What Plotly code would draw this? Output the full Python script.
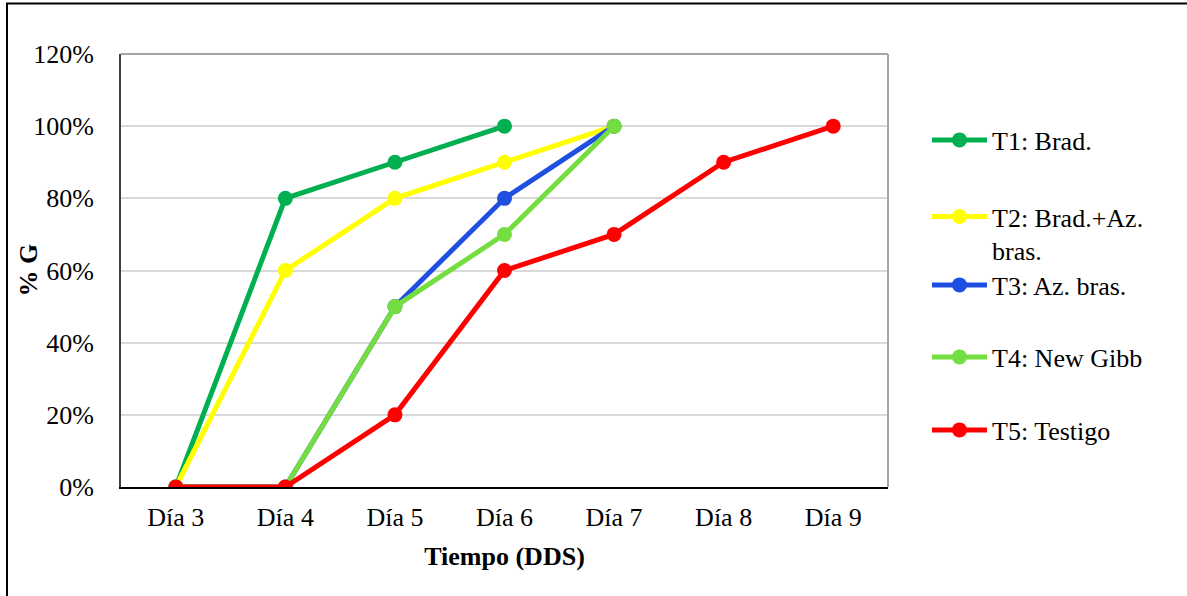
import plotly.graph_objects as go

# Germination curves (% G) per treatment over days after sowing
dias = ["Día 3", "Día 4", "Día 5", "Día 6", "Día 7", "Día 8", "Día 9"]

t1_brad = [0.0, 0.8, 0.9, 1.0, None, None, None]
t2_brad_az = [0.0, 0.6, 0.8, 0.9, 1.0, None, None]
t3_az = [0.0, 0.0, 0.5, 0.8, 1.0, None, None]
t4_newgibb = [0.0, 0.0, 0.5, 0.7, 1.0, None, None]
t5_testigo = [0.0, 0.0, 0.2, 0.6, 0.7, 0.9, 1.0]

nombres = ["T1: Brad.", "T2: Brad.+Az.<br>bras.", "T3: Az. bras.", "T4: New Gibb", "T5: Testigo"]
colores = ["#00B050", "#FFFF00", "#1F4FE0", "#74DE40", "#FF0000"]
series = [t1_brad, t2_brad_az, t3_az, t4_newgibb, t5_testigo]

FONT = "Liberation Serif"
FS = 26
W, H = 1187, 596
L, R, T, B = 121, 888, 54, 487
pw, ph = R - L, B - T

fig = go.Figure()
legend_ids = ["legend", "legend2", "legend3", "legend4", "legend5"]
for nombre, color, vals, lid in zip(nombres, colores, series, legend_ids):
    fig.add_trace(go.Scatter(
        x=dias, y=vals, name=nombre, mode="lines+markers",
        line=dict(color=color, width=5),
        marker=dict(color=color, size=15),
        legend=lid, connectgaps=False,
    ))

# one legend box per entry, stacked at an even pitch
legend_rows = [140, 210, 285, 357, 430]
layout_legends = {}
for lid, row in zip(legend_ids, legend_rows):
    first_line_top = lid == "legend2"
    layout_legends[lid] = dict(
        x=(927 - L) / pw,
        y=(B - (row - 17 if first_line_top else row)) / ph,
        xanchor="left", yanchor="top" if first_line_top else "middle",
        valign="top" if first_line_top else "middle",
        font=dict(family=FONT, size=FS, color="black"),
        bgcolor="rgba(0,0,0,0)", borderwidth=0,
        itemwidth=55,
    )

fig.update_layout(
    width=W, height=H,
    margin=dict(l=L, r=W - R, t=T, b=H - B),
    paper_bgcolor="white", plot_bgcolor="white",
    font=dict(family=FONT, size=FS, color="black"),
    showlegend=True,
    xaxis=dict(
        type="category", categoryorder="array", categoryarray=dias,
        range=[-0.5, len(dias) - 0.5],
        showline=True, linecolor="black", linewidth=2,
        showgrid=False, zeroline=False, ticks="", automargin=False,
        ticklabelstandoff=6,
        tickfont=dict(family=FONT, size=FS),
        title=dict(text="<b>Tiempo (DDS)</b>", font=dict(family=FONT, size=FS), standoff=16),
    ),
    yaxis=dict(
        range=[0, 1.2], tickvals=[0, 0.2, 0.4, 0.6, 0.8, 1.0, 1.2],
        tickformat=".0%",
        showline=True, linecolor="#404040", linewidth=2,
        showgrid=True, gridcolor="#D9D9D9", gridwidth=2,
        zeroline=False, ticks="", ticklabelstandoff=20, automargin=False,
        tickfont=dict(family=FONT, size=FS),
    ),
    annotations=[
        # vertical axis title
        dict(text="<b>% G</b>", textangle=-90, showarrow=False,
             xref="paper", yref="paper", x=(28 - L) / pw, y=0.5,
             xanchor="center", yanchor="middle",
             font=dict(family=FONT, size=FS, color="black")),
    ],
    shapes=[
        # plot-area frame, top and right sides
        dict(type="line", xref="paper", yref="paper", x0=0, x1=1, y0=1, y1=1,
             line=dict(color="#A6A6A6", width=2)),
        dict(type="line", xref="paper", yref="paper", x0=1, x1=1, y0=0, y1=1,
             line=dict(color="#A6A6A6", width=2)),
        # outer chart border
        dict(type="rect", xref="paper", yref="paper",
             x0=(7 - L) / pw, x1=(1220 - L) / pw,
             y0=(B - 640) / ph, y1=(B - 3.5) / ph,
             line=dict(color="black", width=2), fillcolor="rgba(0,0,0,0)", layer="above"),
    ],
    **layout_legends,
)

fig.write_html("out.html")
